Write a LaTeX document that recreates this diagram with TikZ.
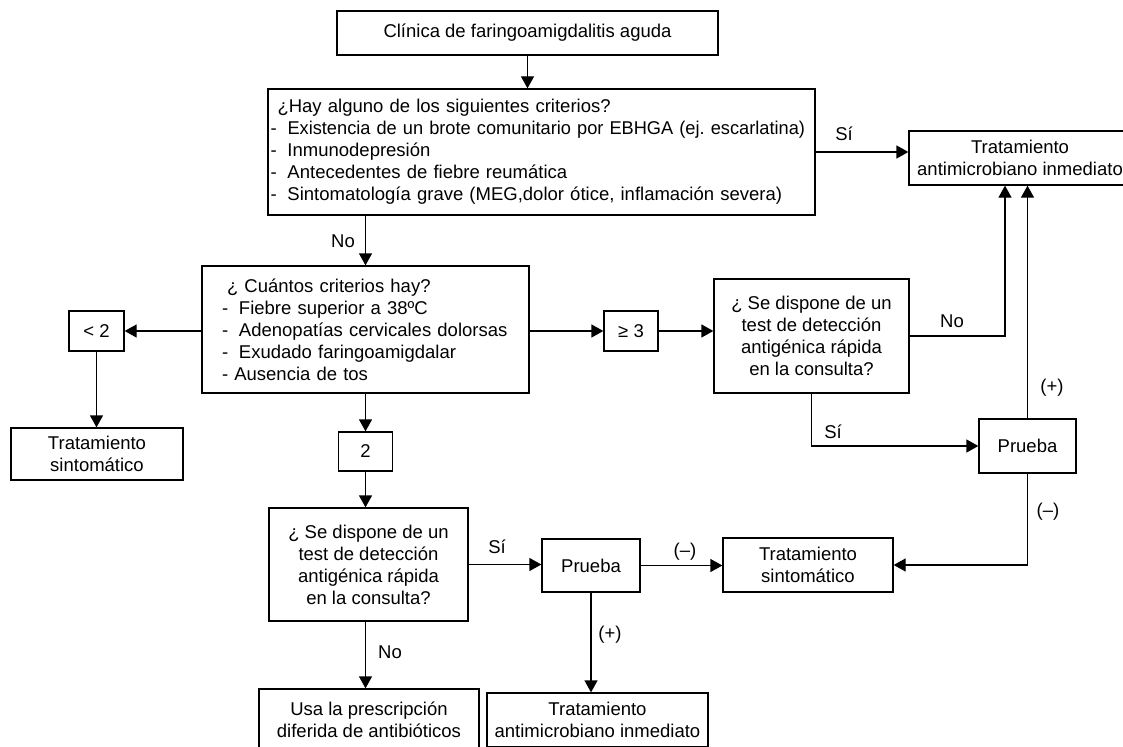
\documentclass[tikz,border=0pt]{standalone}
\usepackage{fontspec}
\setmainfont{Liberation Sans}
\usetikzlibrary{arrows.meta}
\newcommand{\dashit}[2][17pt]{\mbox{\makebox[#1][l]{-}#2}}
\frenchspacing

\begin{document}
\begin{tikzpicture}[x=1pt,y=-1pt,line width=1.3pt,
  every node/.style={font=\fontsize{18.5}{22}\selectfont},
  box/.style={draw,inner sep=0pt,align=center},
  lbl/.style={inner sep=0pt},
  flow/.style={-{Triangle[length=12pt,width=13pt]}}]
\useasboundingbox (0,0) rectangle (1123,746);
% boxes
\node[box,minimum width=381pt,minimum height=44pt] (clin) at (527.5,33) {Clínica de faringoamigdalitis aguda};
\node[box,minimum width=547pt,minimum height=126pt,text width=542pt,align=left,inner xsep=2.5pt] (crit) at (541.5,152)
  {\hspace*{7pt}¿Hay alguno de los siguientes criterios?\\
   \dashit{\scalebox{0.985}[1]{Existencia de un brote comunitario por EBHGA (ej. escarlatina)}}\\
   \dashit{Inmunodepresión}\\
   \dashit{Antecedentes de fiebre reumática}\\
   \dashit{Sintomatología grave (MEG,dolor ótice, inflamación severa)}};
\node[box,minimum width=222pt,minimum height=54pt] (tai1) at (1020,158) {Tratamiento\\antimicrobiano inmediato};
\node[box,minimum width=327pt,minimum height=127pt,text width=287pt,align=left,inner xsep=20pt] (cuan) at (365.5,329.5)
  {\hspace*{5pt}¿ Cuántos criterios hay?\\
   \dashit{Fiebre superior a 38ºC}\\
   \dashit{Adenopatías cervicales dolorsas}\\
   \dashit{Exudado faringoamigdalar}\\
   - Ausencia de tos};
\node[box,minimum width=55pt,minimum height=40pt] (lt2) at (96.5,331) {< 2};
\node[box,minimum width=172pt,minimum height=52pt] (ts1) at (97,454) {Tratamiento\\sintomático};
\node[box,minimum width=54pt,minimum height=40pt] (ge3) at (631,331) {≥ 3};
\node[box,minimum width=195pt,minimum height=114pt] (test1) at (811.5,336) {¿ Se dispone de un\\test de detección\\antigénica rápida\\en la consulta?};
\node[box,minimum width=97pt,minimum height=54pt] (pr1) at (1027.5,446) {Prueba};
\node[box,minimum width=54pt,minimum height=39pt] (two) at (365.5,451.5) {2};
\node[box,minimum width=199pt,minimum height=113pt] (test2) at (368.5,564.5) {¿ Se dispone de un\\test de detección\\antigénica rápida\\en la consulta?};
\node[box,minimum width=98pt,minimum height=53pt] (pr2) at (591,565.5) {Prueba};
\node[box,minimum width=170pt,minimum height=54pt] (ts2) at (808,565) {Tratamiento\\sintomático};
\node[box,minimum width=220pt,minimum height=62pt] (usa) at (369,720) {Usa la prescripción\\diferida de antibióticos};
\node[box,minimum width=221pt,minimum height=54pt] (tai2) at (597.5,720) {Tratamiento\\antimicrobiano inmediato};
% connectors
\draw[flow] (clin.south) -- (clin.south |- crit.north);
\draw[flow] (crit.east) -- (crit.east -| tai1.west);
\draw[flow] (crit.south -| cuan.north) -- (cuan.north);
\draw[flow] (cuan.west |- lt2.east) -- (lt2.east);
\draw[flow] (lt2.south) -- (lt2.south |- ts1.north);
\draw[flow] (cuan.east |- ge3.west) -- (ge3.west);
\draw[flow] (ge3.east) -- (ge3.east -| test1.west);
\draw[flow] (test1.east) -| ([xshift=-15pt]tai1.south);
\draw[flow] (test1.south) |- (pr1.west);
\draw[flow] (pr1.north) -- (pr1.north |- tai1.south);
\draw[flow] (pr1.south) |- (ts2.east);
\draw[flow] (cuan.south) -- (two.north);
\draw[flow] (two.south) -- (two.south |- test2.north);
\draw[flow] (test2.east) -- (test2.east -| pr2.west);
\draw[flow] (pr2.east) -- (pr2.east -| ts2.west);
\draw[flow] (pr2.south) -- (pr2.south |- tai2.north);
\draw[flow] (two.south |- test2.south) -- (two.south |- usa.north);
% labels
\node[lbl] (si1) at (844,134) {Sí};
\node[lbl] (no1) at (343,241) {No};
\node[lbl] (no2) at (952,321) {No};
\node[lbl] (si2) at (833,432) {Sí};
\node[lbl] (pos1) at (1052,388) {(+)};
\node[lbl] (neg1) at (1048,512) {(–)};
\node[lbl] (si3) at (497,547) {Sí};
\node[lbl] (neg2) at (685,552) {(–)};
\node[lbl] (pos2) at (610,635) {(+)};
\node[lbl] (no3) at (390,652) {No};
\end{tikzpicture}
\end{document}
